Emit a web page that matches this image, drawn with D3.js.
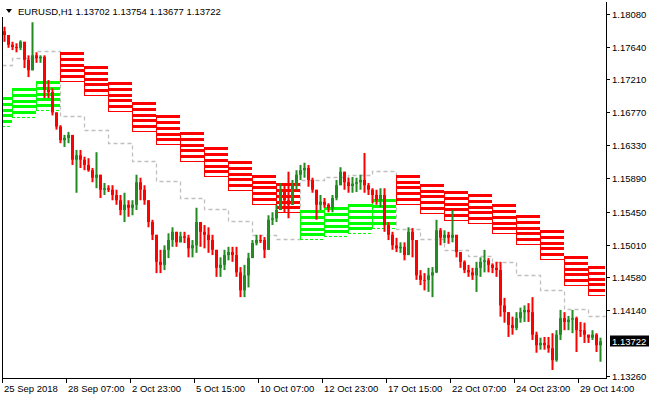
<!DOCTYPE html>
<html><head><meta charset="utf-8">
<script src="https://cdn.jsdelivr.net/npm/d3@7"></script>
<style>html,body{margin:0;padding:0;background:#fff;} svg{display:block;}</style>
</head><body>
<svg id="c" width="650" height="400"></svg>
<script>
// ---- data (EURUSD H1, each entry = 4 hourly bars) ----
const firstOpen = 1.1785;
const highs = [
1.1791,1.1777,1.1771,1.1769,1.1773,1.1769,1.1753,1.1797,1.1757,1.1753,
1.1753,1.1720,1.1709,1.1677,1.1660,1.1647,1.1651,1.1647,1.1627,1.1627,
1.1618,1.1616,1.1603,1.1624,1.1594,1.1583,1.1580,1.1580,1.1574,1.1567,
1.1570,1.1560,1.1560,1.1594,1.1590,1.1580,1.1556,1.1534,1.1507,1.1494,
1.1500,1.1516,1.1524,1.1516,1.1518,1.1518,1.1514,1.1507,1.1550,1.1530,
1.1527,1.1524,1.1514,1.1490,1.1484,1.1494,1.1498,1.1498,1.1498,1.1471,
1.1474,1.1490,1.1507,1.1514,1.1514,1.1511,1.1540,1.1544,1.1554,1.1583,
1.1580,1.1598,1.1587,1.1600,1.1607,1.1610,1.1607,1.1590,1.1574,1.1567,
1.1563,1.1556,1.1567,1.1587,1.1604,1.1596,1.1590,1.1591,1.1590,1.1594,
1.1623,1.1583,1.1576,1.1574,1.1576,1.1576,1.1531,1.1518,1.1510,1.1504,
1.1504,1.1524,1.1523,1.1498,1.1467,1.1463,1.1470,1.1471,1.1534,1.1523,
1.1520,1.1518,1.1547,1.1514,1.1491,1.1480,1.1474,1.1470,1.1478,1.1484,
1.1494,1.1483,1.1476,1.1478,1.1478,1.1430,1.1411,1.1405,1.1411,1.1417,
1.1420,1.1423,1.1431,1.1385,1.1377,1.1378,1.1378,1.1383,1.1387,1.1414,
1.1411,1.1406,1.1414,1.1405,1.1398,1.1397,1.1381,1.1387,1.1383,1.1377];
const lows = [
1.1771,1.1763,1.1760,1.1757,1.1760,1.1736,1.1724,1.1744,1.1743,1.1743,
1.1696,1.1696,1.1673,1.1654,1.1636,1.1631,1.1636,1.1607,1.1570,1.1603,
1.1600,1.1598,1.1584,1.1576,1.1563,1.1567,1.1571,1.1560,1.1554,1.1540,
1.1531,1.1538,1.1540,1.1547,1.1560,1.1554,1.1524,1.1507,1.1463,1.1463,
1.1467,1.1483,1.1498,1.1498,1.1504,1.1503,1.1484,1.1484,1.1490,1.1498,
1.1496,1.1490,1.1487,1.1458,1.1458,1.1467,1.1480,1.1478,1.1458,1.1431,
1.1431,1.1444,1.1484,1.1500,1.1503,1.1483,1.1494,1.1527,1.1531,1.1547,
1.1544,1.1536,1.1554,1.1574,1.1587,1.1590,1.1578,1.1570,1.1534,1.1547,
1.1550,1.1544,1.1544,1.1560,1.1580,1.1574,1.1570,1.1570,1.1571,1.1574,
1.1570,1.1567,1.1556,1.1554,1.1551,1.1518,1.1507,1.1494,1.1491,1.1490,
1.1480,1.1500,1.1484,1.1454,1.1447,1.1440,1.1438,1.1431,1.1463,1.1500,
1.1503,1.1502,1.1504,1.1484,1.1470,1.1463,1.1458,1.1454,1.1438,1.1458,
1.1464,1.1464,1.1463,1.1458,1.1405,1.1397,1.1378,1.1381,1.1387,1.1397,
1.1398,1.1398,1.1374,1.1357,1.1361,1.1361,1.1357,1.1334,1.1345,1.1374,
1.1387,1.1387,1.1383,1.1358,1.1378,1.1370,1.1370,1.1374,1.1358,1.1345];
const closes = [
1.1780,1.1767,1.1764,1.1763,1.1771,1.1747,1.1733,1.1753,1.1749,1.1751,
1.1707,1.1704,1.1677,1.1658,1.1640,1.1643,1.1647,1.1614,1.1620,1.1614,
1.1607,1.1600,1.1590,1.1594,1.1574,1.1576,1.1574,1.1567,1.1560,1.1547,
1.1554,1.1550,1.1554,1.1584,1.1574,1.1560,1.1531,1.1514,1.1478,1.1474,
1.1494,1.1507,1.1518,1.1504,1.1512,1.1510,1.1496,1.1500,1.1531,1.1518,
1.1514,1.1507,1.1494,1.1470,1.1474,1.1487,1.1491,1.1487,1.1464,1.1440,
1.1460,1.1483,1.1503,1.1507,1.1507,1.1494,1.1534,1.1536,1.1547,1.1574,
1.1560,1.1554,1.1580,1.1594,1.1600,1.1603,1.1587,1.1574,1.1554,1.1558,
1.1554,1.1550,1.1563,1.1580,1.1598,1.1584,1.1579,1.1582,1.1584,1.1587,
1.1580,1.1574,1.1567,1.1560,1.1567,1.1527,1.1514,1.1500,1.1496,1.1498,
1.1487,1.1518,1.1507,1.1460,1.1454,1.1454,1.1460,1.1464,1.1520,1.1510,
1.1514,1.1510,1.1514,1.1491,1.1478,1.1467,1.1464,1.1460,1.1470,1.1478,
1.1480,1.1474,1.1470,1.1467,1.1420,1.1411,1.1394,1.1390,1.1403,1.1411,
1.1414,1.1411,1.1381,1.1367,1.1370,1.1367,1.1363,1.1347,1.1381,1.1403,
1.1398,1.1401,1.1403,1.1387,1.1387,1.1381,1.1377,1.1381,1.1367,1.13722];
const hoursPerBar = 4;

// daily zones (one per day segment)
const zoneTypes   = ["G","G","G","R","R","R","R","R","R","R","R","R","R","G","G","G","G","R","R","R","R","R","R","R","R","R"];
const zoneTops    = [1.1697,1.1709,1.1719,1.1757,1.1739,1.1717,1.1691,1.1673,1.1651,1.1631,1.1612,1.1594,1.1583,1.1547,1.1551,1.1555,1.1562,1.1594,1.1582,1.1572,1.1568,1.1555,1.1540,1.1520,1.1486,1.1472];
const zoneBottoms = [1.1659,1.1671,1.1680,1.1719,1.1700,1.1679,1.1652,1.1635,1.1612,1.1592,1.1574,1.1555,1.1544,1.1508,1.1512,1.1516,1.1523,1.1555,1.1543,1.1534,1.1530,1.1516,1.1502,1.1482,1.1447,1.1434];
// dashed trailing level (one per day segment)
const trailLevels = [1.1740,1.1749,1.1759,1.1672,1.1654,1.1636,1.1612,1.1586,1.1563,1.1548,1.1532,1.1514,1.1508,1.1587,1.1591,1.1594,1.1599,1.1522,1.1508,1.1494,1.1486,1.1478,1.1460,1.1440,1.1415,1.1406];
const dayOffsetHours = 10, hoursPerDay = 24, totalHours = 604;

const timeLabels = ["25 Sep 2018","28 Sep 07:00","2 Oct 23:00","5 Oct 15:00","10 Oct 07:00","12 Oct 23:00","17 Oct 15:00","22 Oct 07:00","24 Oct 23:00","29 Oct 14:00"];
const timeTickHours = [0,64,128,192,256,320,384,448,512,576];
const priceTicks = [1.18080,1.17640,1.17210,1.16770,1.16330,1.15890,1.15450,1.15010,1.14580,1.14140,1.13260];
const lastPrice = 1.13722;
const symbolText = "EURUSD,H1";
const ohlcText = ["1.13702","1.13754","1.13677","1.13722"];

// ---- drawing ----
const svg = d3.select("#c");
const FONT = "'Liberation Sans', Arial, sans-serif";
const x = d3.scaleLinear().domain([0, totalHours]).range([2, 606]);
const y = d3.scaleLinear().domain([1.13260, 1.18080]).range([376, 14]);

const segStart = k => k === 0 ? 0 : dayOffsetHours + hoursPerDay * (k - 1);
const segEnd = k => Math.min(dayOffsetHours + hoursPerDay * k, totalHours - 1);

// trailing dashed step line
const trailPts = [];
trailLevels.forEach((v, k) => { trailPts.push([segStart(k), v]); trailPts.push([segEnd(k), v]); });
svg.append("path")
  .attr("d", d3.line().x(d => Math.round(x(d[0])) + 0.5).y(d => Math.round(y(d[1])) + 0.5)(trailPts))
  .attr("fill", "none").attr("stroke", "#c0c0c0").attr("stroke-width", 1.3).attr("stroke-dasharray", "4,3");

// zones
const zoneColor = t => t === "R" ? "#ff0000" : "#00ff00";
const zg = svg.append("g").attr("shape-rendering", "crispEdges");
zoneTypes.forEach((t, k) => {
  const x0 = Math.round(x(segStart(k))), x1 = Math.round(x(segEnd(k)));
  const yt = y(zoneTops[k]), yb = y(zoneBottoms[k]);
  const levels = d3.range(6).map(j => yt + (yb - yt) * j / 5);
  levels.forEach((ly, j) => {
    if (j < 5) {
      zg.append("rect").attr("x", x0).attr("y", Math.round(ly)).attr("width", x1 - x0).attr("height", 3)
        .attr("fill", zoneColor(t));
    } else {
      zg.append("line").attr("x1", x0).attr("x2", x1).attr("y1", Math.round(ly) + 0.5).attr("y2", Math.round(ly) + 0.5)
        .attr("stroke", zoneColor(t)).attr("stroke-width", 1).attr("stroke-dasharray", t === "G" ? "3,2" : null);
    }
  });
  zg.append("line").attr("x1", x0 + 0.5).attr("x2", x0 + 0.5).attr("y1", Math.round(yt)).attr("y2", Math.round(yb) + 1)
    .attr("stroke", zoneColor(t)).attr("stroke-width", 1);
});

// candles
const cg = svg.append("g");
closes.forEach((c, i) => {
  const o = i === 0 ? firstOpen : closes[i - 1];
  const hi = Math.max(highs[i], o, c), lo = Math.min(lows[i], o, c);
  const col = c > o ? "#228b22" : "#ff0000";
  const bx = x(i * hoursPerBar + 1);
  cg.append("rect").attr("x", bx + 0.5).attr("y", y(hi)).attr("width", 2).attr("height", Math.max(1, y(lo) - y(hi)))
    .attr("fill", col);
  const yTop = y(Math.max(o, c)), yBot = y(Math.min(o, c));
  cg.append("rect").attr("x", bx).attr("y", yTop).attr("width", 3).attr("height", Math.max(1, yBot - yTop))
    .attr("fill", col);
});

// frame
svg.append("line").attr("x1", 2.5).attr("x2", 2.5).attr("y1", 17).attr("y2", 378.5).attr("stroke", "#000");
svg.append("line").attr("x1", 606.5).attr("x2", 606.5).attr("y1", 2).attr("y2", 378.5).attr("stroke", "#000");
svg.append("line").attr("x1", 2).attr("x2", 607).attr("y1", 378.5).attr("y2", 378.5).attr("stroke", "#000");

// price axis
priceTicks.forEach(p => {
  const py = Math.round(y(p)) + 0.5;
  svg.append("line").attr("x1", 606).attr("x2", 610).attr("y1", py).attr("y2", py).attr("stroke", "#000");
  svg.append("text").attr("x", 612).attr("y", py + 3.5).attr("font-family", FONT).attr("font-size", "9.5px")
    .attr("fill", "#000").text(p.toFixed(5));
});
const ly = Math.round(y(lastPrice));
svg.append("rect").attr("x", 610).attr("y", ly - 5.5).attr("width", 39).attr("height", 11).attr("fill", "#000");
svg.append("text").attr("x", 612).attr("y", ly + 3.5).attr("font-family", FONT).attr("font-size", "9.5px")
  .attr("fill", "#fff").text(lastPrice.toFixed(5));

// time axis
timeTickHours.forEach((h, k) => {
  const tx = Math.round(x(h)) + 0.5;
  svg.append("line").attr("x1", tx).attr("x2", tx).attr("y1", 378).attr("y2", 383).attr("stroke", "#000");
  svg.append("text").attr("x", tx + 1.5).attr("y", 392).attr("font-family", FONT).attr("font-size", "9.5px")
    .attr("fill", "#000").text(timeLabels[k]);
});

// title
svg.append("path").attr("d", "M6,9 L12,9 L9,13 Z").attr("fill", "#000");
svg.append("text").attr("x", 18).attr("y", 14.5).attr("font-family", FONT).attr("font-size", "9.5px").attr("fill", "#000")
  .attr("xml:space", "preserve").text(symbolText + " " + ohlcText.join(" "));
</script>
</body></html>
